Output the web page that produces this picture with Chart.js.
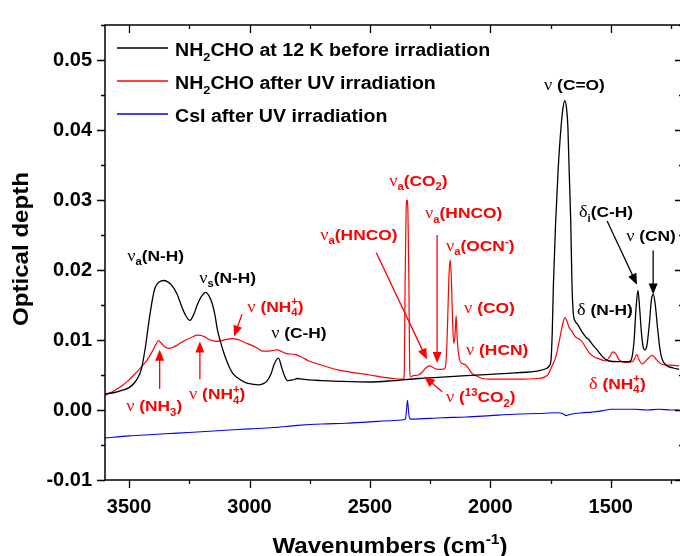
<!DOCTYPE html>
<html>
<head>
<meta charset="utf-8">
<script src="https://cdn.jsdelivr.net/npm/chart.js@4.4.1/dist/chart.umd.min.js"></script>
<style>
html, body { margin: 0; padding: 0; overflow: hidden; background: #fff; }
#wrap { width: 690px; height: 556px; }
</style>
</head>
<body>
<div id="wrap"><canvas id="spectrum" width="690" height="556"></canvas></div>
<script>
// wavenumbers (cm-1) and optical depth
const blackWn = [3600, 3560, 3530, 3500, 3475, 3455, 3446, 3430, 3417, 3396, 3375, 3355, 3335, 3320, 3300, 3285, 3265, 3247, 3230, 3216, 3200, 3182, 3168, 3154, 3143, 3133, 3120, 3106, 3090, 3071, 3050, 3016, 2990, 2960, 2940, 2926, 2910, 2898, 2880, 2864, 2850, 2843, 2820, 2801, 2780, 2753, 2700, 2628, 2500, 2400, 2300, 2200, 2100, 2000, 1900, 1800, 1770, 1755, 1748, 1743, 1738, 1729, 1718, 1705, 1698, 1691, 1684, 1678, 1673, 1666, 1661, 1656, 1648, 1639, 1620, 1603, 1590, 1575, 1562, 1536, 1520, 1507, 1470, 1424, 1412, 1403, 1395, 1387, 1380, 1372, 1364, 1358, 1350, 1340, 1331, 1323, 1315, 1305, 1295, 1285, 1270, 1240, 1216];
const blackOD = [0.0023, 0.0025, 0.0028, 0.0032, 0.0040, 0.0052, 0.0063, 0.0095, 0.0128, 0.0170, 0.0183, 0.0185, 0.0182, 0.0177, 0.0165, 0.0151, 0.0135, 0.0128, 0.0138, 0.0151, 0.0162, 0.0168, 0.0163, 0.0151, 0.0135, 0.0114, 0.0097, 0.0081, 0.0066, 0.0053, 0.0046, 0.0039, 0.0037, 0.0036, 0.0038, 0.0042, 0.0052, 0.0065, 0.0074, 0.0058, 0.0045, 0.0042, 0.0043, 0.0045, 0.0044, 0.0043, 0.0042, 0.0041, 0.0040, 0.0042, 0.0045, 0.0047, 0.0049, 0.0051, 0.0053, 0.0056, 0.0059, 0.0063, 0.0072, 0.0110, 0.0180, 0.0267, 0.0346, 0.0410, 0.0432, 0.0442, 0.0432, 0.0405, 0.0346, 0.0267, 0.0180, 0.0140, 0.0127, 0.0123, 0.0112, 0.0104, 0.0100, 0.0093, 0.0088, 0.0077, 0.0072, 0.0070, 0.0069, 0.0069, 0.0075, 0.0100, 0.0145, 0.0171, 0.0145, 0.0108, 0.0088, 0.0086, 0.0092, 0.0122, 0.0158, 0.0165, 0.0150, 0.0115, 0.0085, 0.0071, 0.0064, 0.0060, 0.0058];

const redWn = [3600, 3560, 3528, 3500, 3472, 3445, 3424, 3405, 3390, 3378, 3365, 3355, 3334, 3315, 3299, 3280, 3265, 3240, 3216, 3189, 3170, 3154, 3135, 3119, 3095, 3071, 3050, 3036, 3010, 2988, 2966, 2946, 2925, 2905, 2884, 2870, 2850, 2808, 2780, 2753, 2700, 2628, 2560, 2500, 2450, 2400, 2370, 2360, 2357, 2354, 2350, 2346, 2342, 2338, 2335, 2332, 2320, 2300, 2283, 2268, 2254, 2234, 2215, 2200, 2188, 2182, 2177, 2172, 2167, 2162, 2157, 2152, 2147, 2142, 2138, 2132, 2121, 2105, 2088, 2075, 2059, 2034, 2000, 1900, 1800, 1775, 1760, 1745, 1727, 1710, 1698, 1690, 1682, 1673, 1660, 1648, 1635, 1620, 1605, 1590, 1570, 1548, 1521, 1505, 1491, 1478, 1466, 1438, 1410, 1400, 1392, 1380, 1369, 1350, 1328, 1310, 1286, 1250, 1216];
const redOD = [0.0021, 0.0028, 0.0035, 0.0043, 0.0053, 0.0063, 0.0072, 0.0083, 0.0093, 0.0099, 0.0095, 0.0091, 0.0088, 0.0090, 0.0093, 0.0097, 0.0100, 0.0104, 0.0107, 0.0105, 0.0101, 0.0099, 0.0098, 0.0099, 0.0101, 0.0102, 0.0101, 0.0099, 0.0095, 0.0092, 0.0088, 0.0084, 0.0084, 0.0085, 0.0086, 0.0084, 0.0081, 0.0079, 0.0075, 0.0070, 0.0064, 0.0057, 0.0053, 0.0050, 0.0047, 0.0045, 0.0044, 0.0044, 0.0060, 0.0180, 0.0280, 0.0300, 0.0280, 0.0180, 0.0060, 0.0047, 0.0049, 0.0050, 0.0054, 0.0060, 0.0063, 0.0060, 0.0058, 0.0058, 0.0060, 0.0080, 0.0130, 0.0190, 0.0214, 0.0190, 0.0130, 0.0095, 0.0105, 0.0135, 0.0105, 0.0080, 0.0067, 0.0065, 0.0058, 0.0052, 0.0049, 0.0045, 0.0044, 0.0044, 0.0045, 0.0047, 0.0051, 0.0062, 0.0077, 0.0105, 0.0125, 0.0132, 0.0127, 0.0118, 0.0112, 0.0105, 0.0102, 0.0098, 0.0090, 0.0082, 0.0076, 0.0073, 0.0070, 0.0076, 0.0083, 0.0080, 0.0072, 0.0068, 0.0069, 0.0074, 0.0079, 0.0070, 0.0066, 0.0072, 0.0078, 0.0072, 0.0065, 0.0064, 0.0063];

const blueWn = [3600, 3500, 3400, 3300, 3200, 3100, 3000, 2900, 2800, 2700, 2600, 2500, 2400, 2360, 2352, 2348, 2344, 2340, 2336, 2330, 2200, 2100, 2000, 1900, 1800, 1720, 1700, 1685, 1665, 1620, 1577, 1550, 1520, 1500, 1450, 1400, 1350, 1300, 1250, 1216];
const blueOD = [-0.0040, -0.0037, -0.0035, -0.0033, -0.0031, -0.0029, -0.0027, -0.0025, -0.0022, -0.0020, -0.0019, -0.0017, -0.0015, -0.0014, -0.0012, 0.0000, 0.0014, 0.0000, -0.0011, -0.0013, -0.0011, -0.0010, -0.0008, -0.0006, -0.0005, -0.0004, -0.0005, -0.0008, -0.0006, -0.0004, -0.0003, -0.0002, 0.0000, 0.0001, 0.0001, 0.0001, 0.0000, 0.0001, 0.0000, 0.0000];

const xTickValues = [3500, 3000, 2500, 2000, 1500];
const xTickLabels = ['3500', '3000', '2500', '2000', '1500'];
const yTickValues = [-0.01, 0.00, 0.01, 0.02, 0.03, 0.04, 0.05];
const yTickLabels = ['-0.01', '0.00', '0.01', '0.02', '0.03', '0.04', '0.05'];

const K = '#000000', R = '#ff0000', B = '#0000ff';

// legend entries, [text, kind]: g = greek, b = subscript, p = superscript
const legendItems = [
  { c: K, t: [['NH'], ['2', 'b'], ['CHO at 12 K before irradiation']] },
  { c: R, t: [['NH'], ['2', 'b'], ['CHO after UV irradiation']] },
  { c: B, t: [['CsI after UV irradiation']] }
];

const NH4 = [['ν', 'g'], [' (NH'], ['4', '+', 'bp'], [')']];
const HNCO = [['ν', 'g'], ['a', 'b'], ['(HNCO)']];

// band labels, placed at (wavenumber, optical depth)
const notes = [
  { wn: 3508, od: 0.0221, c: K, t: [['ν', 'g'], ['a', 'b'], ['(N-H)']] },
  { wn: 3209, od: 0.0190, c: K, t: [['ν', 'g'], ['s', 'b'], ['(N-H)']] },
  { wn: 3009, od: 0.0148, c: R, t: NH4 },
  { wn: 2910, od: 0.0111, c: K, t: [['ν', 'g'], [' (C-H)']] },
  { wn: 3512, od: 0.0006, c: R, t: [['ν', 'g'], [' (NH'], ['3', 'b'], [')']] },
  { wn: 3251, od: 0.0023, c: R, t: NH4 },
  { wn: 2420, od: 0.0328, c: R, t: [['ν', 'g'], ['a', 'b'], ['(CO'], ['2', 'b'], [')']] },
  { wn: 2271, od: 0.0282, c: R, t: HNCO },
  { wn: 2706, od: 0.0251, c: R, t: HNCO },
  { wn: 2184, od: 0.0235, c: R, t: [['ν', 'g'], ['a', 'b'], ['(OCN'], ['-', 'p'], [')']] },
  { wn: 2109, od: 0.0146, c: R, t: [['ν', 'g'], [' (CO)']] },
  { wn: 2101, od: 0.0087, c: R, t: [['ν', 'g'], [' (HCN)']] },
  { wn: 2184, od: 0.0019, c: R, t: [['ν', 'g'], [' ('], ['13', 'p'], ['CO'], ['2', 'b'], [')']] },
  { wn: 1777, od: 0.0465, c: K, t: [['ν', 'g'], [' (C=O)']] },
  { wn: 1632, od: 0.0283, c: K, t: [['δ', 'g'], ['i', 'b'], ['(C-H)']] },
  { wn: 1436, od: 0.0249, c: K, t: [['ν', 'g'], [' (CN)']] },
  { wn: 1640, od: 0.0144, c: K, t: [['δ', 'g'], [' (N-H)']] },
  { wn: 1590, od: 0.0038, c: R, t: [['δ', 'g'], [' (NH'], ['4', '+', 'bp'], [')']] }
];

const arrows = [
  { c: R, from: [3031, 0.0137], to: [3064, 0.0105] },
  { c: R, from: [3373, 0.0030], to: [3373, 0.0086] },
  { c: R, from: [3206, 0.0044], to: [3206, 0.0098] },
  { c: R, from: [2221, 0.0250], to: [2221, 0.0067] },
  { c: R, from: [2474, 0.0225], to: [2263, 0.0072] },
  { c: R, from: [2200, 0.0026], to: [2275, 0.0048] },
  { c: K, from: [1515, 0.0270], to: [1391, 0.0179] },
  { c: K, from: [1324, 0.0228], to: [1324, 0.0165] }
];

const SANS = '"Liberation Sans", Arial, sans-serif';
const SERIF = '"Liberation Serif", "Times New Roman", serif';
const STRETCH = 1.12;

function partFont(kind, size) {
  if (kind === 'g') return `${size * 1.05}px ${SERIF}`;
  if (kind === 'b' || kind === 'p' || kind === 'bp') return `bold ${size * 0.65}px ${SANS}`;
  return `bold ${size}px ${SANS}`;
}

function richWidth(ctx, parts, size) {
  let w = 0;
  parts.forEach(p => {
    if (p[2] === 'bp') {
      ctx.font = partFont('bp', size);
      w += Math.max(ctx.measureText(p[0]).width, ctx.measureText(p[1]).width);
    } else {
      ctx.font = partFont(p[1], size);
      w += ctx.measureText(p[0]).width;
    }
  });
  return w * STRETCH;
}

// draws text with sub/superscripts, left edge at x, vertical middle of capitals at midY
function drawRich(ctx, parts, x, midY, size, color) {
  ctx.save();
  ctx.translate(x, midY + size * 0.36);
  ctx.scale(STRETCH, 1);
  ctx.fillStyle = color;
  ctx.textBaseline = 'alphabetic';
  ctx.textAlign = 'left';
  let cx = 0;
  parts.forEach(p => {
    if (p[2] === 'bp') {
      ctx.font = partFont('bp', size);
      ctx.fillText(p[0], cx, size * 0.28);
      ctx.fillText(p[1], cx, -size * 0.45);
      cx += Math.max(ctx.measureText(p[0]).width, ctx.measureText(p[1]).width);
      return;
    }
    const kind = p[1];
    ctx.font = partFont(kind, size);
    let dy = 0;
    if (kind === 'b') dy = size * 0.28;
    if (kind === 'p') dy = -size * 0.42;
    ctx.fillText(p[0], cx, dy);
    cx += ctx.measureText(p[0]).width;
  });
  ctx.restore();
}

function drawArrow(ctx, x0, y0, x1, y1, color) {
  const ang = Math.atan2(y1 - y0, x1 - x0);
  const len = 11, half = 4.5;
  ctx.save();
  ctx.strokeStyle = color;
  ctx.fillStyle = color;
  ctx.lineWidth = 1.3;
  ctx.beginPath();
  ctx.moveTo(x0, y0);
  ctx.lineTo(x1 - Math.cos(ang) * len * 0.8, y1 - Math.sin(ang) * len * 0.8);
  ctx.stroke();
  ctx.beginPath();
  ctx.moveTo(x1, y1);
  ctx.lineTo(x1 - Math.cos(ang) * len - Math.sin(ang) * half, y1 - Math.sin(ang) * len + Math.cos(ang) * half);
  ctx.lineTo(x1 - Math.cos(ang) * len + Math.sin(ang) * half, y1 - Math.sin(ang) * len - Math.cos(ang) * half);
  ctx.closePath();
  ctx.fill();
  ctx.restore();
}

function isMajor(v, list) {
  return list.some(t => Math.abs(t - v) < 1e-9);
}

const decorations = {
  id: 'decorations',
  afterDraw(chart) {
    const { ctx, chartArea: a, scales: { x, y } } = chart;
    ctx.save();
    // frame
    ctx.strokeStyle = '#000';
    ctx.lineWidth = 1.5;
    ctx.strokeRect(a.left, a.top, a.right - a.left, a.bottom - a.top);
    // ticks: outward on bottom/left, inward on top/right
    ctx.lineWidth = 1.3;
    ctx.beginPath();
    x.ticks.forEach(t => {
      const px = Math.round(x.getPixelForValue(t.value)) + 0.5;
      const len = isMajor(t.value, xTickValues) ? 8 : 4;
      ctx.moveTo(px, a.bottom); ctx.lineTo(px, a.bottom + len);
      ctx.moveTo(px, a.top); ctx.lineTo(px, a.top + len);
    });
    y.ticks.forEach(t => {
      const py = Math.round(y.getPixelForValue(t.value)) + 0.5;
      const len = isMajor(t.value, yTickValues) ? 8 : 4;
      ctx.moveTo(a.left, py); ctx.lineTo(a.left - len, py);
      ctx.moveTo(a.right, py); ctx.lineTo(a.right - len, py);
    });
    ctx.stroke();
    ctx.restore();

    // arrows and band labels
    arrows.forEach(ar => {
      drawArrow(ctx, x.getPixelForValue(ar.from[0]), y.getPixelForValue(ar.from[1]),
        x.getPixelForValue(ar.to[0]), y.getPixelForValue(ar.to[1]), ar.c);
    });
    notes.forEach(n => {
      drawRich(ctx, n.t, x.getPixelForValue(n.wn), y.getPixelForValue(n.od), 15.5, n.c);
    });

    // legend
    legendItems.forEach((it, i) => {
      const ly = a.top + 23 + i * 33;
      ctx.save();
      ctx.strokeStyle = it.c;
      ctx.lineWidth = 1.5;
      ctx.beginPath();
      ctx.moveTo(a.left + 12, ly);
      ctx.lineTo(a.left + 63, ly);
      ctx.stroke();
      ctx.restore();
      drawRich(ctx, it.t, a.left + 70, ly + 1.5, 17.5, '#000');
    });

    // axis titles
    const xt = [['Wavenumbers (cm'], ['-1', 'p'], [')']];
    const xw = richWidth(ctx, xt, 21.5);
    drawRich(ctx, xt, 390 - xw / 2, 545, 21.5, '#000');
    const yt = [['Optical depth']];
    const yw = richWidth(ctx, yt, 21.5);
    ctx.save();
    ctx.translate(20, 249);
    ctx.rotate(-Math.PI / 2);
    drawRich(ctx, yt, -yw / 2, 0, 21.5, '#000');
    ctx.restore();
  }
};

const tickFont = { family: SANS, size: 20, weight: 'bold' };

const config = {
  type: 'line',
  data: {
    datasets: [
      {
        label: 'NH2CHO at 12 K before irradiation',
        data: blackWn.map((w, i) => ({ x: w, y: blackOD[i] })),
        borderColor: K, borderWidth: 1.3
      },
      {
        label: 'NH2CHO after UV irradiation',
        data: redWn.map((w, i) => ({ x: w, y: redOD[i] })),
        borderColor: R, borderWidth: 1.2
      },
      {
        label: 'CsI after UV irradiation',
        data: blueWn.map((w, i) => ({ x: w, y: blueOD[i] })),
        borderColor: B, borderWidth: 1.1
      }
    ]
  },
  options: {
    responsive: false,
    animation: false,
    devicePixelRatio: 1,
    layout: { padding: { top: 14, right: 7, left: 0, bottom: 0 } },
    elements: {
      point: { radius: 0 },
      line: { cubicInterpolationMode: 'monotone', fill: false }
    },
    plugins: {
      legend: { display: false },
      tooltip: { enabled: false }
    },
    scales: {
      x: {
        type: 'linear',
        reverse: true,
        min: 1200,
        max: 3600,
        grid: { display: false, drawTicks: false },
        border: { display: false },
        ticks: {
          stepSize: 250,
          includeBounds: false,
          autoSkip: false,
          maxRotation: 0,
          padding: 15,
          color: '#000',
          font: tickFont,
          callback: v => {
            const i = xTickValues.findIndex(t => Math.abs(t - v) < 1e-9);
            return i >= 0 ? xTickLabels[i] : '';
          }
        },
        afterFit: s => { s.height = 76; }
      },
      y: {
        type: 'linear',
        min: -0.01,
        max: 0.055,
        grid: { display: false, drawTicks: false },
        border: { display: false },
        ticks: {
          stepSize: 0.005,
          includeBounds: false,
          autoSkip: false,
          padding: 13,
          color: '#000',
          font: tickFont,
          callback: v => {
            const i = yTickValues.findIndex(t => Math.abs(t - v) < 1e-9);
            return i >= 0 ? yTickLabels[i] : '';
          }
        },
        afterFit: s => { s.width = 105; }
      }
    }
  },
  plugins: [decorations]
};

const spectrumChart = new Chart(document.getElementById('spectrum').getContext('2d'), config);
</script>
</body>
</html>
